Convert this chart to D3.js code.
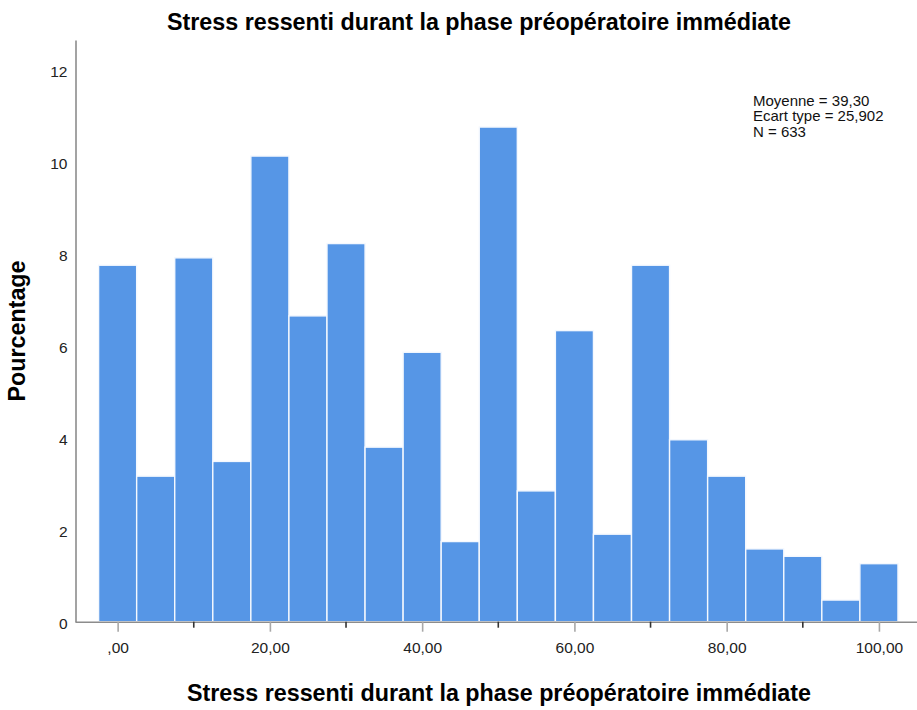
<!DOCTYPE html>
<html>
<head>
<meta charset="utf-8">
<script src="https://cdn.jsdelivr.net/npm/d3@7"></script>
<style>
  body { margin: 0; background: #fff; }
  svg { font-family: "Liberation Sans", Arial, sans-serif; }
  .title { font-size: 23.3px; font-weight: bold; fill: #000; }
  .tick text { font-size: 15.5px; fill: #222; }
  .stats { font-size: 15px; fill: #111; }
</style>
</head>
<body>
<svg width="917" height="710"></svg>
<script>
// histogram data: centre of each bin and percentage of cases
const binCentres = [0, 5, 10, 15, 20, 25, 30, 35, 40, 45, 50, 55, 60, 65, 70, 75, 80, 85, 90, 95, 100];
const pourcentages = [7.74, 3.16, 7.90, 3.48, 10.11, 6.64, 8.21, 3.79, 5.85, 1.74, 10.74, 2.84, 6.32, 1.90, 7.74, 3.95, 3.16, 1.58, 1.42, 0.47, 1.26];
const binWidth = 5;

// ticks
const xMajorTicks = [0, 20, 40, 60, 80, 100];
const xTickLabels = [",00", "20,00", "40,00", "60,00", "80,00", "100,00"];
const xMinorTicks = [10, 30, 50, 70, 90];
const yTicks = [0, 2, 4, 6, 8, 10, 12];

const titre = "Stress ressenti durant la phase préopératoire immédiate";
const statsLignes = ["Moyenne = 39,30", "Ecart type = 25,902", "N = 633"];

const svg = d3.select("svg");

// schalen
const x = d3.scaleLinear()
    .domain([-5.6, 105])
    .range([75, 917]);

const y = d3.scaleLinear()
    .domain([0, 12.63])
    .range([621.7, 40]);

// balken
svg.append("g")
    .selectAll("rect")
    .data(binCentres)
    .enter()
    .append("rect")
    .attr("x", d => x(d - binWidth / 2))
    .attr("width", d => x(d + binWidth / 2) - x(d - binWidth / 2))
    .attr("y", (d, i) => y(pourcentages[i]))
    .attr("height", (d, i) => y(0) - y(pourcentages[i]))
    .attr("fill", "#5696e6")
    .attr("stroke", "#f4f8fe")
    .attr("stroke-width", 1.4);

// y-as
const yAxis = d3.axisLeft(y)
    .tickValues(yTicks)
    .tickSize(0)
    .tickPadding(8)
    .tickFormat(d => d);

const gy = svg.append("g")
    .attr("transform", "translate(75.5,0)")
    .call(yAxis);
gy.select(".domain").attr("stroke", "#8c8c8c").attr("stroke-width", 1.6);
gy.selectAll(".tick text").attr("dy", "0.45em");

// x-as met grote ticks
const xAxis = d3.axisBottom(x)
    .tickValues(xMajorTicks)
    .tickSize(10)
    .tickSizeOuter(0)
    .tickPadding(12)
    .tickFormat((d, i) => xTickLabels[i]);

const gx = svg.append("g")
    .attr("transform", `translate(0,${y(0)})`)
    .call(xAxis);
gx.select(".domain").attr("stroke", "#8c8c8c").attr("stroke-width", 1.6);
gx.selectAll(".tick line").attr("stroke", "#a8a8a8").attr("stroke-width", 1.6);
gx.selectAll(".tick text").attr("dy", "0.6em");

// kleine ticks
svg.append("g")
    .selectAll("line")
    .data(xMinorTicks)
    .enter()
    .append("line")
    .attr("x1", d => x(d))
    .attr("x2", d => x(d))
    .attr("y1", y(0))
    .attr("y2", y(0) + 6)
    .attr("stroke", "#333")
    .attr("stroke-width", 1.6);

// titels
svg.append("text")
    .attr("class", "title")
    .attr("x", 479)
    .attr("y", 29.5)
    .attr("text-anchor", "middle")
    .text(titre);

svg.append("text")
    .attr("class", "title")
    .attr("x", 499)
    .attr("y", 701)
    .attr("text-anchor", "middle")
    .text(titre);

svg.append("text")
    .attr("class", "title")
    .attr("transform", "translate(25,331) rotate(-90)")
    .attr("text-anchor", "middle")
    .text("Pourcentage");

// statistieken
svg.append("text")
    .attr("class", "stats")
    .selectAll("tspan")
    .data(statsLignes)
    .enter()
    .append("tspan")
    .attr("x", 753)
    .attr("y", (d, i) => 106 + i * 15.3)
    .text(d => d);
</script>
</body>
</html>
